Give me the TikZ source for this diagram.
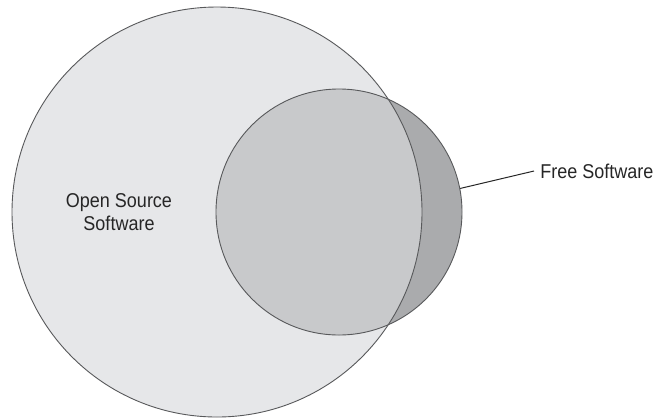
\documentclass[tikz,border=0pt]{standalone}
\usepackage{fontspec}
\setmainfont{Liberation Sans}[FakeStretch=0.9]
\usepackage{tikz}
\usepackage{xcolor}

\definecolor{osslight}{HTML}{E6E7E9}
\definecolor{bothmid}{HTML}{C8C9CB}
\definecolor{fsdark}{HTML}{AAABAD}
\definecolor{edgegray}{HTML}{58595B}

\begin{document}
\begin{tikzpicture}[x=1bp, y=-1bp, line width=0.9bp,
  every node/.style={font=\fontsize{20bp}{23bp}\selectfont, text=black!85}]
\useasboundingbox (0,0) rectangle (656,418);

\node[circle, fill=osslight, inner sep=0pt, minimum size=410bp] (oss) at (217,212) {};
\node[circle, fill=fsdark, inner sep=0pt, minimum size=246bp,
  path picture={\fill[bothmid] (oss.center) circle[radius=205bp];}] (fs) at (339,212) {};

\draw[edgegray] (oss.center) circle[radius=205bp];
\draw[edgegray] (fs.center) circle[radius=123bp];

\node[align=center] (osstext) at (119,212) {Open Source\\Software};
\node[anchor=west, inner sep=6bp] (fstext) at (534,171) {Free Software};

\draw[black!85, line width=1bp] (fs.11) -- (fstext.west);
\end{tikzpicture}
\end{document}
